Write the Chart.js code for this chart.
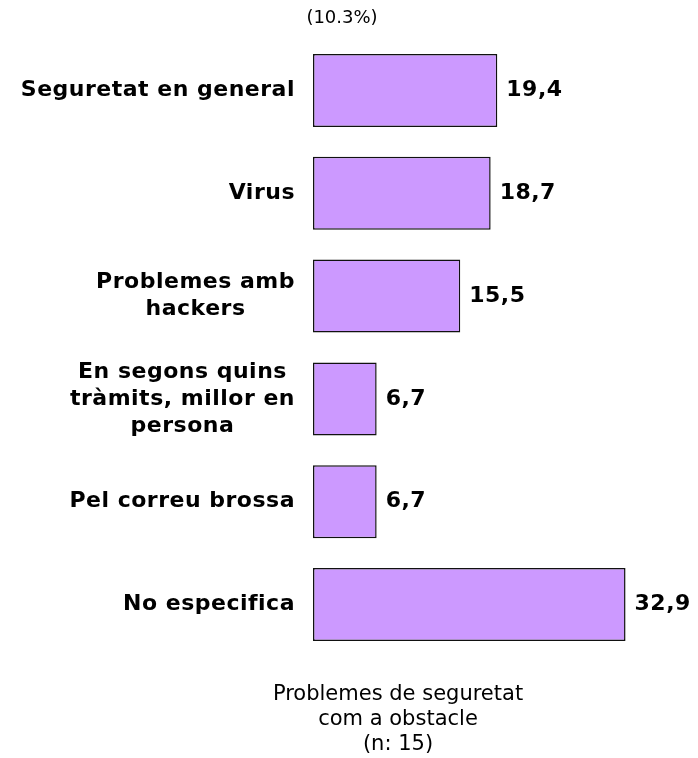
<!DOCTYPE html>
<html>
<head>
<meta charset="utf-8">
<script src="https://cdn.jsdelivr.net/npm/chart.js@4"></script>
<style>
  html, body { margin: 0; padding: 0; background: #fff; }
  #wrap { width: 698px; height: 758px; }
</style>
</head>
<body>
<div id="wrap"><canvas id="chart"></canvas></div>
<script>
// categories (each line of a label as a separate string)
const categories = [
  ['Seguretat en general'],
  ['Virus'],
  ['Problemes amb', 'hackers'],
  ['En segons quins', 'tràmits, millor en', 'persona'],
  ['Pel correu brossa'],
  ['No especifica']
];
const values = [19.4, 18.7, 15.5, 6.7, 6.7, 32.9];
const topLabel = '(10.3%)';
const bottomLabel = ['Problemes de seguretat', 'com a obstacle', '(n: 15)'];

const labelFont = 'bold 22px "DejaVu Sans", sans-serif';

// draws category labels, value labels and the texts above/below
const textPlugin = {
  id: 'texts',
  afterDatasetsDraw(chart) {
    const ctx = chart.ctx;
    const yScale = chart.scales.y;
    const meta = chart.getDatasetMeta(0);
    ctx.save();
    ctx.fillStyle = '#000';
    ctx.font = labelFont;
    ctx.letterSpacing = '0.5px';
    ctx.textBaseline = 'middle';

    categories.forEach((lines, i) => {
      const yc = yScale.getPixelForValue(i);
      const lh = 27;
      const widest = Math.max(...lines.map(l => ctx.measureText(l).width));
      const right = chart.chartArea.left - 18;
      const cx = right - widest / 2;
      ctx.textAlign = 'center';
      lines.forEach((l, j) => {
        ctx.fillText(l, cx, yc + (j - (lines.length - 1) / 2) * lh);
      });
    });

    meta.data.forEach((bar, i) => {
      ctx.textAlign = 'left';
      ctx.fillText(values[i].toFixed(1).replace('.', ','), bar.x + 9, bar.y);
    });

    ctx.letterSpacing = '0px';
    ctx.textAlign = 'center';
    ctx.font = '18px "DejaVu Sans", sans-serif';
    ctx.fillText(topLabel, 342, 18);
    ctx.font = '21px "DejaVu Sans", sans-serif';
    bottomLabel.forEach((l, j) => {
      ctx.fillText(l, 398, 695 + j * 25);
    });
    ctx.restore();
  }
};

new Chart(document.getElementById('chart'), {
  type: 'bar',
  data: {
    labels: categories,
    datasets: [{
      data: values,
      backgroundColor: '#CC99FF',
      borderColor: '#111',
      borderWidth: 1.5,
      borderSkipped: false,
      barPercentage: 0.71,
      categoryPercentage: 1
    }]
  },
  options: {
    indexAxis: 'y',
    responsive: true,
    maintainAspectRatio: false,
    animation: false,
    layout: { padding: { left: 313, top: 39, bottom: 102, right: 5 } },
    scales: {
      x: { display: false, min: 0, max: 40 },
      y: { display: false }
    },
    plugins: {
      legend: { display: false },
      tooltip: { enabled: false }
    }
  },
  plugins: [textPlugin]
});
</script>
</body>
</html>
